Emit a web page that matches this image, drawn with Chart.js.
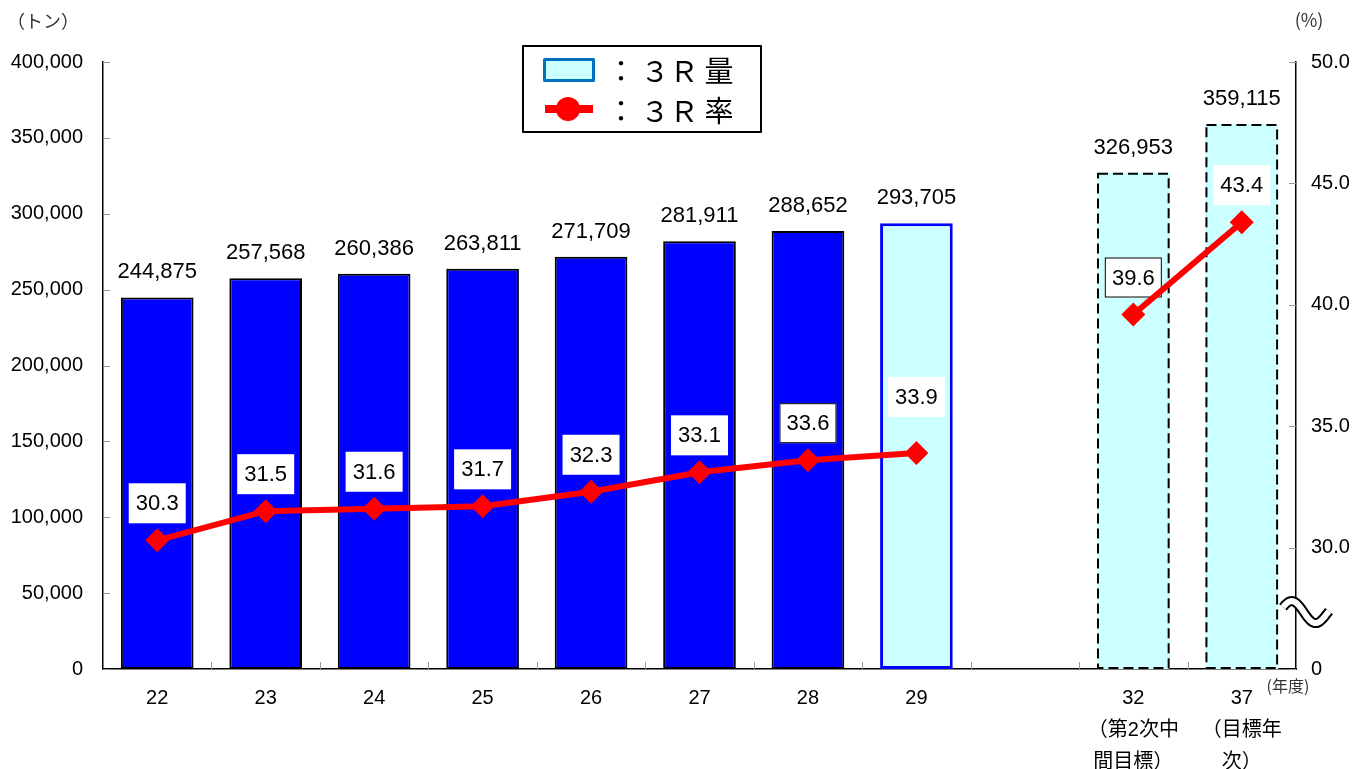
<!DOCTYPE html>
<html><head><meta charset="utf-8">
<script src="https://cdn.jsdelivr.net/npm/chart.js@4/dist/chart.umd.min.js"></script>
<style>html,body{margin:0;padding:0;background:#fff;overflow:hidden}canvas{display:block}</style>
</head><body>
<canvas id="c" width="1358" height="769"></canvas>
<script>
// ---- data ----
const categories = ['22','23','24','25','26','27','28','29','','32','37'];
const categorySubLabels = [[],[],[],[],[],[],[],[],[],['（第2次中','間目標）'],['（目標年','次）']];
const amounts = [244875,257568,260386,263811,271709,281911,288652,293705,null,326953,359115];
const rates = [30.3,31.5,31.6,31.7,32.3,33.1,33.6,33.9,null,39.6,43.4];
const leftTicks = [0,50000,100000,150000,200000,250000,300000,350000,400000];
const rightTicks = [25,30,35,40,45,50]; // 25 shown as 0 (axis break)
const legendLabels = ['３Ｒ量','３Ｒ率'];
const unitLeft = '（トン）', unitRight = '(%)', unitX = '(年度)';

const FONT = "'Liberation Sans', 'Noto Sans CJK JP', sans-serif";
const CJK = "'Noto Sans CJK JP', sans-serif";
const kindOf = i => i < 7 ? 'actual' : (i === 7 ? 'estimate' : 'target');
const xLabels = categories.map((c, i) => categorySubLabels[i].length ? [c, ...categorySubLabels[i]] : c);
const fmt = n => n.toLocaleString('en-US');

const decor = {
  id: 'decor',
  afterDatasetDraw(chart, args) {
    if (args.index !== 1) return; // bar dataset
    const ctx = chart.ctx;
    const meta = chart.getDatasetMeta(1);
    ctx.save();
    meta.data.forEach((b, i) => {
      if (amounts[i] == null || kindOf(i) !== 'target') return;
      const p = b.getProps(['x','y','base','width'], true);
      ctx.strokeStyle = '#000'; ctx.lineWidth = 2; ctx.setLineDash([10,5]);
      ctx.strokeRect(p.x - p.width/2 + 1, p.y + 1, p.width - 2, p.base - p.y - 2);
    });
    ctx.restore();
    // line value boxes (under the line)
    const lm = chart.getDatasetMeta(0);
    ctx.save();
    ctx.font = '22px ' + FONT; ctx.textAlign = 'center'; ctx.textBaseline = 'middle';
    lm.data.forEach((pt, i) => {
      if (rates[i] == null) return;
      const off = i === 7 ? 56 : 37;
      const cx = pt.x, cy = pt.y - off, w = 57, h = 40;
      ctx.fillStyle = '#fff';
      ctx.fillRect(cx - w/2, cy - h/2, w, h);
      if (i === 6 || i === 9) { ctx.strokeStyle = '#000'; ctx.lineWidth = 1; ctx.strokeRect(cx - w/2 + .5, cy - h/2 + .5, w - 1, h - 1); }
      ctx.fillStyle = '#000';
      ctx.fillText(rates[i].toFixed(1), cx, cy + 1);
    });
    ctx.restore();
  },
  afterDraw(chart) {
    const ctx = chart.ctx, a = chart.chartArea;
    const x = chart.scales.x, y = chart.scales.y, y1 = chart.scales.y1;
    ctx.save();
    // inward tick marks
    ctx.strokeStyle = '#999'; ctx.lineWidth = 1;
    leftTicks.forEach(v => { const py = Math.round(y.getPixelForValue(v)) + .5; ctx.beginPath(); ctx.moveTo(a.left, py); ctx.lineTo(a.left + 7, py); ctx.stroke(); });
    rightTicks.forEach(v => { const py = Math.round(y1.getPixelForValue(v)) + .5; ctx.beginPath(); ctx.moveTo(a.right - 7, py); ctx.lineTo(a.right, py); ctx.stroke(); });
    for (let i = 0; i < categories.length - 1; i++) {
      const px = Math.round((x.getPixelForValue(i) + x.getPixelForValue(i+1)) / 2) + .5;
      ctx.beginPath(); ctx.moveTo(px, a.bottom); ctx.lineTo(px, a.bottom - 7); ctx.stroke();
    }
    // bar value labels
    const bm = chart.getDatasetMeta(1);
    ctx.font = '22px ' + FONT; ctx.fillStyle = '#000'; ctx.textAlign = 'center'; ctx.textBaseline = 'middle';
    bm.data.forEach((b, i) => { if (amounts[i] == null) return; ctx.fillText(fmt(amounts[i]), b.x, b.y - 25); });
    // axis break symbol on right axis
    const by = (y1.getPixelForValue(25) + y1.getPixelForValue(30)) / 2;
    const pts = [];
    for (let t = 0; t <= 1.0001; t += 0.02) pts.push([a.right - 13 + 46*t, by + 2 - 10*Math.cos(2*Math.PI*(t - 0.2)) + 4*t]);
    const path = () => { ctx.beginPath(); pts.forEach((p, k) => k ? ctx.lineTo(p[0], p[1]) : ctx.moveTo(p[0], p[1])); };
    ctx.lineCap = 'butt'; ctx.lineJoin = 'round';
    ctx.strokeStyle = '#000'; ctx.lineWidth = 10; path(); ctx.stroke();
    ctx.strokeStyle = '#fff'; ctx.lineWidth = 6; path(); ctx.stroke();
    // unit labels
    ctx.fillStyle = '#333'; ctx.font = '18px ' + CJK; ctx.textBaseline = 'middle';
    ctx.textAlign = 'center'; ctx.fillText(unitLeft, 43, 21);
    ctx.fillText(unitRight, 1309, 20);
    ctx.font = '16px ' + CJK; ctx.fillText(unitX, 1288, 686);
    // legend
    ctx.fillStyle = '#fff'; ctx.fillRect(522, 45, 240, 88);
    ctx.strokeStyle = '#000'; ctx.lineWidth = 2; ctx.strokeRect(523, 46, 238, 86);
    ctx.fillStyle = '#CCFFFF'; ctx.fillRect(544, 59, 50, 22);
    ctx.strokeStyle = '#0070C0'; ctx.lineWidth = 3; ctx.strokeRect(544.5, 59.5, 49, 21);
    ctx.strokeStyle = '#FF0000'; ctx.lineWidth = 8; ctx.beginPath(); ctx.moveTo(545, 109); ctx.lineTo(593, 109); ctx.stroke();
    ctx.fillStyle = '#FF0000'; ctx.beginPath(); ctx.arc(568, 109, 12, 0, Math.PI*2); ctx.fill();
    ctx.fillStyle = '#000'; ctx.font = '29px ' + CJK; ctx.textAlign = 'center';
    legendLabels.forEach((lab, r) => {
      const cy = r ? 111 : 71;
      const chars = ['：', ...Array.from(lab)];
      const xs = [621, 655, 684, 719];
      chars.forEach((ch, k) => ctx.fillText(ch, xs[k], cy));
    });
    ctx.restore();
  }
};

new Chart(document.getElementById('c'), {
  data: {
    labels: xLabels,
    datasets: [
      {
        type: 'line', label: '３Ｒ率', data: rates, yAxisID: 'y1', order: 0,
        borderColor: '#FF0000', backgroundColor: '#FF0000', borderWidth: 6,
        pointStyle: 'rectRot', pointRadius: 12, pointHoverRadius: 12,
        pointBorderWidth: 0, spanGaps: false, tension: 0
      },
      {
        type: 'bar', label: '３Ｒ量', data: amounts, yAxisID: 'y', order: 1,
        backgroundColor: c => kindOf(c.dataIndex) === 'actual' ? '#0000FF' : '#CCFFFF',
        borderColor: c => kindOf(c.dataIndex) === 'actual' ? '#000' : (kindOf(c.dataIndex) === 'estimate' ? '#0000FF' : 'rgba(0,0,0,0)'),
        borderWidth: c => kindOf(c.dataIndex) === 'actual' ? 2 : (kindOf(c.dataIndex) === 'estimate' ? 3 : 0),
        borderSkipped: false,
        categoryPercentage: 1, barPercentage: 0.67
      }
    ]
  },
  options: {
    responsive: false, animation: false, events: [],
    layout: { padding: { top: 62, left: 0, right: 0, bottom: 0 } },
    plugins: { legend: { display: false }, tooltip: { enabled: false } },
    scales: {
      x: {
        grid: { display: false, drawTicks: false },
        border: { display: true, color: '#000', width: 1.5 },
        ticks: { color: '#000', font: { family: FONT, size: 20, lineHeight: 1.6 }, padding: 13, maxRotation: 0, autoSkip: false },
        afterFit: s => { s.height = 100; }
      },
      y: {
        position: 'left', min: 0, max: 400000,
        grid: { display: false, drawTicks: false },
        border: { display: true, color: '#000', width: 1.5 },
        ticks: { stepSize: 50000, color: '#000', font: { family: FONT, size: 20 }, padding: 20, callback: v => fmt(v) },
        afterFit: s => { s.width = 103; }
      },
      y1: {
        position: 'right', min: 25, max: 50,
        grid: { display: false, drawTicks: false },
        border: { display: true, color: '#000', width: 1.5 },
        ticks: { stepSize: 5, color: '#000', font: { family: FONT, size: 20 }, padding: 15, callback: v => v === 25 ? '0' : v.toFixed(1) },
        afterFit: s => { s.width = 62; }
      }
    }
  },
  plugins: [decor]
});
</script>
</body></html>
